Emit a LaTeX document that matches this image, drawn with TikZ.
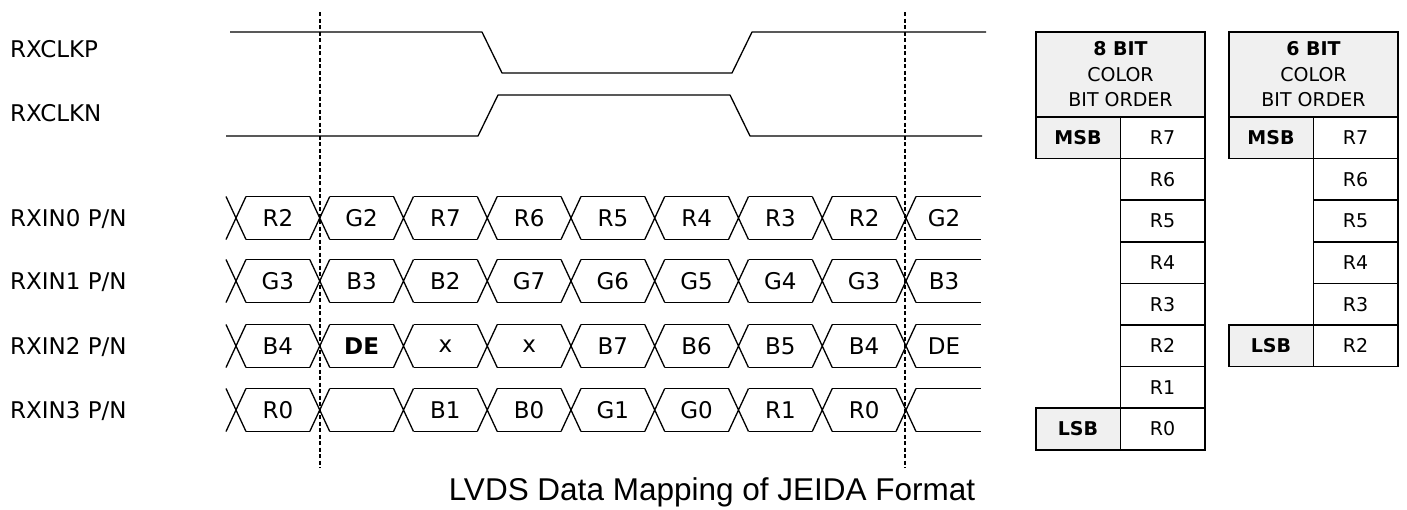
\documentclass[tikz,border=0pt]{standalone}
\usepackage{fontspec}
\setmainfont{DejaVu Sans}
\newfontfamily\capfont{Liberation Sans}
\begin{document}
\begin{tikzpicture}[x=1pt, y=-1pt,
    wave/.style={line width=1.3pt, line join=round},
    marker/.style={line width=1.1pt, dash pattern=on 4pt off 2.5pt},
    signame/.style={anchor=base west, inner sep=0pt, font=\fontsize{23}{27}\selectfont},
    bitname/.style={inner sep=0pt, font=\fontsize{23}{27}\selectfont},
    cell/.style={draw, line width=1.5pt, inner sep=0pt, minimum width=84.5pt, minimum height=41.6pt, font=\fontsize{19}{25.5}\selectfont},
    tag/.style={cell, fill=gray!12, font=\fontsize{19}{25.5}\selectfont\bfseries},
    header/.style={cell, fill=gray!12, minimum width=169pt, minimum height=85pt, align=center}]
    \useasboundingbox (0,0) rectangle (1407,509);

    \node[signame] (clkp) at (10,57) {RXCLKP};
    \node[signame] (clkn) at (10,121) {RXCLKN};
    \draw[wave] (230,32) -- (482,32) -- (502,73) -- (732,73) -- (752,32) -- (986,32);
    \draw[wave] (226,136) -- (478,136) -- (498,95) -- (730,95) -- (750,136) -- (982,136);

    \foreach \row/\yc/\bits in {0/218/{R2,G2,R7,R6,R5,R4,R3,R2,G2},
                              1/281/{G3,B3,B2,G7,G6,G5,G4,G3,B3},
                              2/346/{B4,\textbf{DE},x,x,B7,B6,B5,B4,DE},
                              3/410/{R0,{},B1,B0,G1,G0,R1,R0,{}}} {
        \node[signame] (rxin\row) at (10,\yc+8) {RXIN\row\ P/N};
        \foreach \bitv [count=\k from 0] in \bits {
            \pgfmathsetmacro\cx{236+83.75*\k}
            \pgfmathsetmacro\nx{\k<8 ? \cx+73.75 : 981}
            \pgfmathsetmacro\lx{\k<8 ? \cx+41.875 : 944}
            \draw[wave] ({\cx-10},{\yc-21.5}) -- ({\cx+10},{\yc+21.5})
                        ({\cx-10},{\yc+21.5}) -- ({\cx+10},{\yc-21.5});
            \draw[wave] ({\cx+10},{\yc-21.5}) -- (\nx,{\yc-21.5})
                        ({\cx+10},{\yc+21.5}) -- (\nx,{\yc+21.5});
            \node[bitname] (d\row-\k) at (\lx,\yc) {\bitv};
        }
    }

    \draw[marker] (320,12) -- (320,468);
    \draw[marker] (905,12) -- (905,468);

    \node[header] (ehead) at (1120.5,74.5) {\textbf{8 BIT}\\COLOR\\BIT ORDER};
    \foreach \b [count=\k from 0] in {7,6,...,0}
        \node[cell] (ebit\b) at (1162.5,{137.8+41.6*\k}) {R\b};
    \node[tag] (emsb) at (1078,137.8) {MSB};
    \node[tag] (elsb) at (1078,429) {LSB};

    \node[header] (shead) at (1313.5,74.5) {\textbf{6 BIT}\\COLOR\\BIT ORDER};
    \foreach \b [count=\k from 0] in {7,6,...,2}
        \node[cell] (sbit\b) at (1355.5,{137.8+41.6*\k}) {R\b};
    \node[tag] (smsb) at (1271,137.8) {MSB};
    \node[tag] (slsb) at (1271,345.8) {LSB};

    \node[anchor=base, inner sep=0pt, font=\capfont\fontsize{31.5}{36}\selectfont] (caption) at (712,500) {LVDS Data Mapping of JEIDA Format};
\end{tikzpicture}
\end{document}
